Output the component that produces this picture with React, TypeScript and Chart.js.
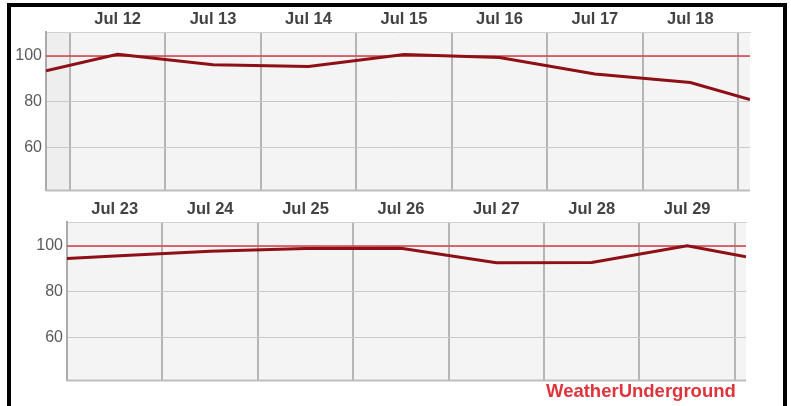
import React, { useEffect, useRef } from 'react';
import { Chart, registerables } from 'chart.js';

Chart.register(...registerables);

// ---- Data (x values are day-of-month in July; .5 = noon) ----
const TOP_DAY_LABELS = ['Jul 12', 'Jul 13', 'Jul 14', 'Jul 15', 'Jul 16', 'Jul 17', 'Jul 18'];
const TOP_DAY_NOONS = [12.5, 13.5, 14.5, 15.5, 16.5, 17.5, 18.5];
const TOP_X = [11.75, 12.5, 13.5, 14.5, 15.5, 16.5, 17.5, 18.5, 19.125];
const TOP_Y = [93.6, 100.8, 96.2, 95.4, 100.7, 99.4, 92.2, 88.4, 81.0];
const TOP_X_RANGE = [11.75, 19.125];

const BOTTOM_DAY_LABELS = ['Jul 23', 'Jul 24', 'Jul 25', 'Jul 26', 'Jul 27', 'Jul 28', 'Jul 29'];
const BOTTOM_DAY_NOONS = [23.5, 24.5, 25.5, 26.5, 27.5, 28.5, 29.5];
const BOTTOM_X = [23.0, 23.5, 24.5, 25.5, 26.5, 27.5, 28.5, 29.5, 30.117];
const BOTTOM_Y = [94.6, 95.7, 97.7, 98.9, 99.0, 92.7, 92.8, 100.1, 95.3];
const BOTTOM_X_RANGE = [23.0, 30.117];

const Y_TICKS = [60, 80, 100];
const Y_RANGE = [41.5, 110.5];
const REFERENCE_LEVEL = 100;
const SOURCE_LABEL = 'WeatherUnderground';

const FONT = '"Liberation Sans", Arial, sans-serif';

const panelBackground = {
  id: 'panelBackground',
  beforeDraw(chart: any) {
    const { ctx, chartArea: a, scales } = chart;
    ctx.save();
    ctx.fillStyle = '#f4f4f4';
    ctx.fillRect(a.left, a.top, a.right - a.left, a.bottom - a.top);
    const xs = scales.x;
    const firstMidnight = xs.getPixelForValue(Math.ceil(xs.min - 1e-6));
    if (firstMidnight > a.left + 1) {
      ctx.fillStyle = '#eeeeee';
      ctx.fillRect(a.left, a.top, firstMidnight - a.left, a.bottom - a.top);
    }
    ctx.restore();
  },
  beforeDatasetsDraw(chart: any) {
    const { ctx, chartArea: a } = chart;
    ctx.save();
    ctx.strokeStyle = '#bdbdbd';
    ctx.lineWidth = 2;
    ctx.beginPath();
    ctx.moveTo(a.left, a.bottom + 0.5);
    ctx.lineTo(a.right, a.bottom + 0.5);
    ctx.stroke();
    ctx.restore();
  },
};

type PanelProps = {
  top: number;
  height: number;
  xs: number[];
  ys: number[];
  noons: number[];
  labels: string[];
  xRange: number[];
  axisWidth: number;
  axisHeight: number;
  padRight: number;
  padBottom: number;
};

function Panel(p: PanelProps) {
  const ref = useRef<HTMLCanvasElement | null>(null);
  useEffect(() => {
    if (!ref.current) return;
    const chart = new Chart(ref.current, {
      type: 'line',
      data: {
        datasets: [
          {
            data: p.xs.map((x, i) => ({ x, y: p.ys[i] })),
            borderColor: '#8e0f16',
            borderWidth: 3,
            pointRadius: 0,
            tension: 0,
            order: 0,
          },
          {
            data: [
              { x: p.xRange[0], y: REFERENCE_LEVEL },
              { x: p.xRange[1], y: REFERENCE_LEVEL },
            ],
            borderColor: '#d2404a',
            borderWidth: 1.5,
            pointRadius: 0,
            order: 1,
          },
        ],
      },
      options: {
        responsive: false,
        animation: false,
        layout: { padding: { left: 0, top: 0, right: p.padRight, bottom: p.padBottom } },
        plugins: { legend: { display: false }, tooltip: { enabled: false } },
        scales: {
          x: {
            type: 'linear',
            position: 'top',
            min: p.xRange[0],
            max: p.xRange[1],
            afterBuildTicks: (s: any) => {
              s.ticks = p.noons.map((v) => ({ value: v }));
            },
            afterFit: (s: any) => {
              s.height = p.axisHeight;
              s.paddingLeft = 0;
              s.paddingRight = 0;
            },
            ticks: {
              autoSkip: false,
              maxRotation: 0,
              padding: 3,
              color: '#424242',
              font: { family: FONT, size: 16.5, weight: 'bold' },
              callback: (_v: any, i: number) => p.labels[i],
            },
            grid: { offset: true, drawTicks: false, color: '#b5b5b5', lineWidth: 2 },
            border: { display: true, color: '#d0d0d0', width: 1 },
          },
          y: {
            type: 'linear',
            min: Y_RANGE[0],
            max: Y_RANGE[1],
            afterBuildTicks: (s: any) => {
              s.ticks = Y_TICKS.map((v) => ({ value: v }));
            },
            afterFit: (s: any) => {
              s.width = p.axisWidth;
              s.paddingTop = 0;
              s.paddingBottom = 0;
            },
            ticks: {
              padding: 4,
              color: '#5a5a5a',
              font: { family: FONT, size: 16 },
              callback: (v: any) => String(v),
            },
            grid: { drawTicks: false, color: '#c9c9c9', lineWidth: 1 },
            border: { display: true, color: '#ababab', width: 2 },
          },
        },
      } as any,
      plugins: [panelBackground],
    });
    return () => chart.destroy();
  }, []);
  return (
    <canvas
      ref={ref}
      width={791}
      height={p.height}
      style={{ position: 'absolute', left: 0, top: p.top, width: 791, height: p.height }}
    />
  );
}

export default function App() {
  return (
    <div
      style={{
        position: 'absolute',
        left: 0,
        top: 0,
        width: 791,
        height: 406,
        overflow: 'hidden',
        background: '#ffffff',
      }}
    >
      <div
        style={{
          position: 'absolute',
          left: 7,
          top: 3,
          width: 780,
          height: 420,
          boxSizing: 'border-box',
          border: '4px solid #000',
        }}
      />
      <Panel
        top={0}
        height={210}
        xs={TOP_X}
        ys={TOP_Y}
        noons={TOP_DAY_NOONS}
        labels={TOP_DAY_LABELS}
        xRange={TOP_X_RANGE}
        axisWidth={46}
        axisHeight={32}
        padRight={41}
        padBottom={20}
      />
      <Panel
        top={195}
        height={205}
        xs={BOTTOM_X}
        ys={BOTTOM_Y}
        noons={BOTTOM_DAY_NOONS}
        labels={BOTTOM_DAY_LABELS}
        xRange={BOTTOM_X_RANGE}
        axisWidth={67}
        axisHeight={27}
        padRight={45}
        padBottom={20}
      />
      <div
        style={{
          position: 'absolute',
          left: 546,
          top: 380,
          fontFamily: FONT,
          fontWeight: 'bold',
          fontSize: 18.5,
          lineHeight: '22px',
          color: '#e0343c',
          whiteSpace: 'nowrap',
        }}
      >
        {SOURCE_LABEL}
      </div>
    </div>
  );
}
